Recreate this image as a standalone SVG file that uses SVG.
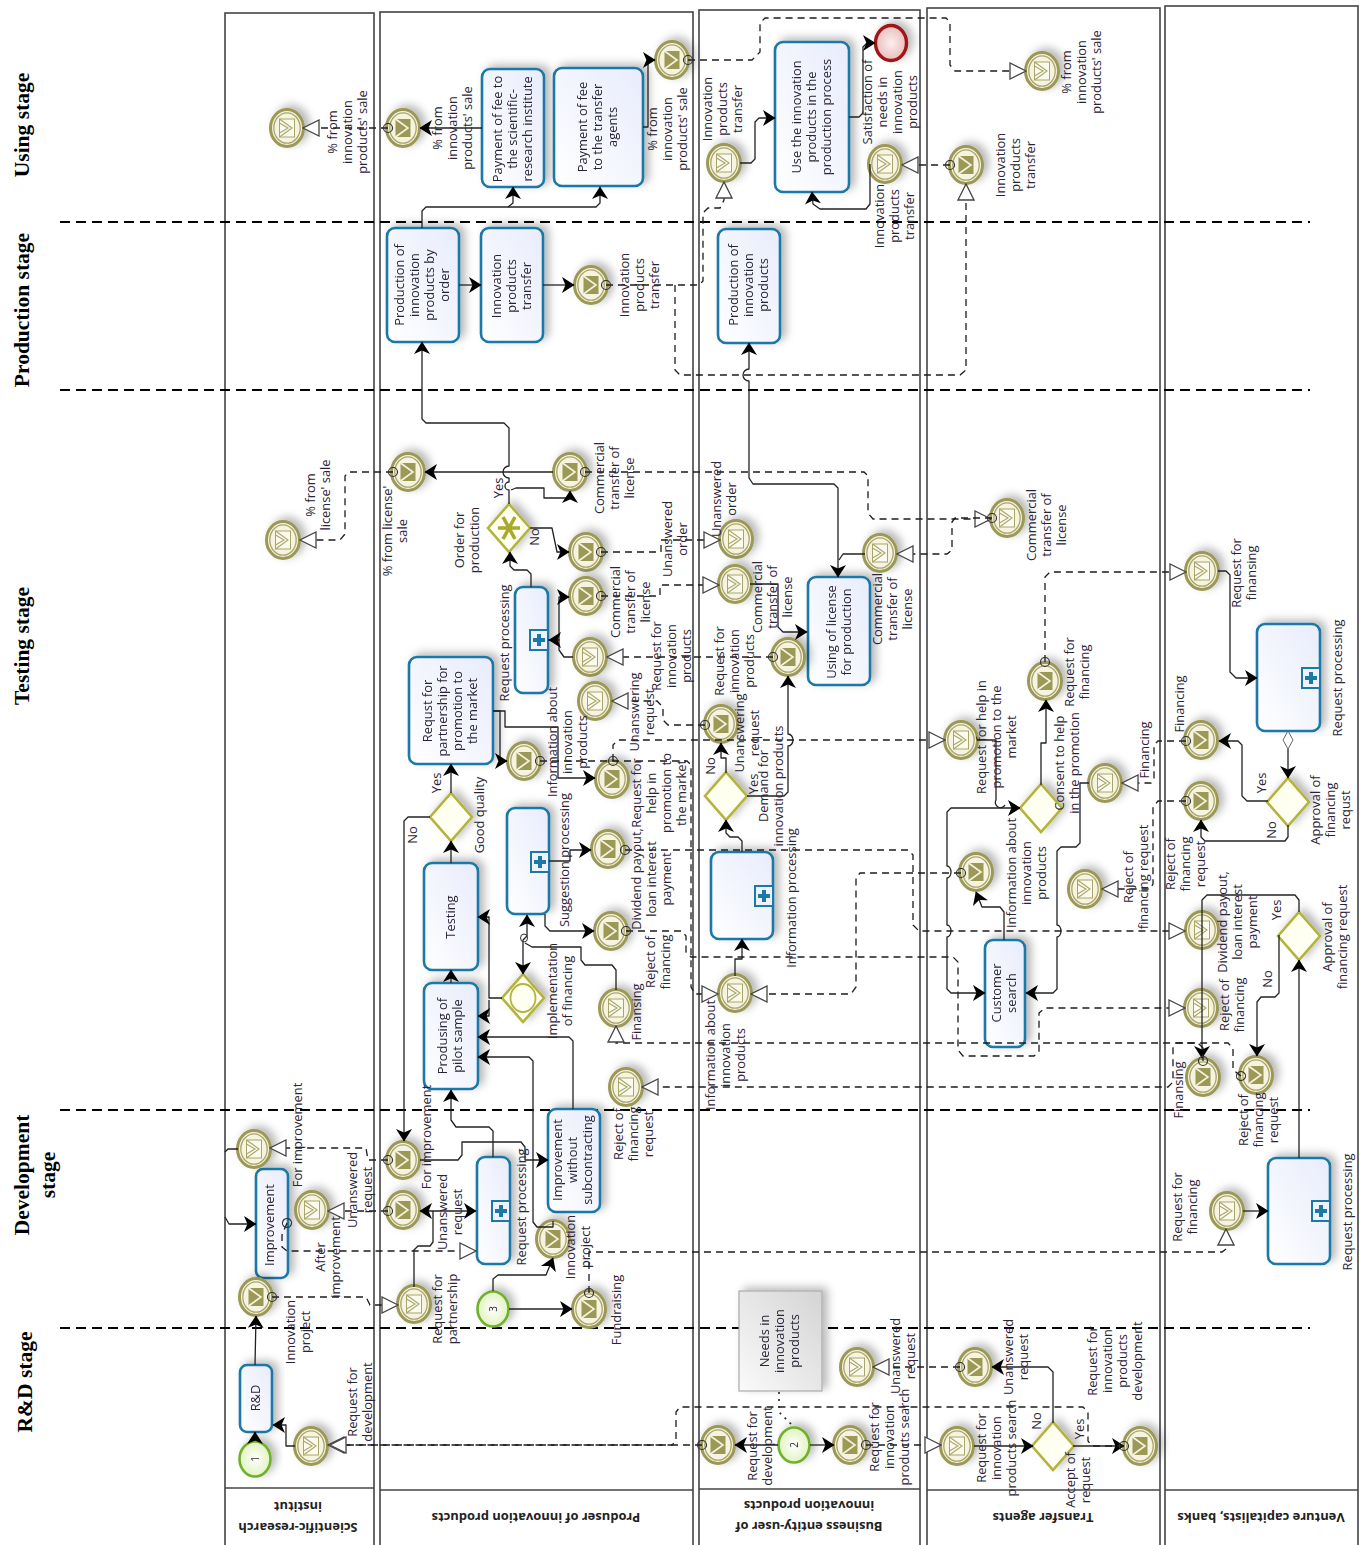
<svg xmlns="http://www.w3.org/2000/svg" xmlns:xlink="http://www.w3.org/1999/xlink" width="1365" height="1545" viewBox="0 0 1365 1545">
<style>
text{font-family:"Open Sans","Noto Sans","Liberation Sans",sans-serif;font-size:12.9px;fill:#2a2438;text-anchor:middle}
.lane{fill:#fff;stroke:#444;stroke-width:1.6}
.hdr{stroke:#444;stroke-width:1.6;fill:none}
.stage{stroke:#000;stroke-width:2;stroke-dasharray:10 6;fill:none}
.st{font-family:"Liberation Serif",serif;font-size:21.5px;font-weight:bold;fill:#000}
.lt{font-size:12.9px;font-weight:700;fill:#222}
.task{fill:url(#tg);stroke:#1d78a6;stroke-width:2.6}
.box{fill:#eef2fd;stroke:#1d78a6;stroke-width:2}
.plus{fill:#1d78a6}
.gw{fill:url(#gg);stroke:#b3b33c;stroke-width:2.6}
.sh{filter:url(#sd)}
.s{fill:none;stroke:#222;stroke-width:1.3;stroke-linejoin:round;marker-end:url(#arr)}
.b{marker-start:url(#arr)}
.n{marker-end:none}
.m{fill:none;stroke:#1c1c1c;stroke-width:1.3;stroke-dasharray:7 5;marker-end:url(#tri)}
.c{marker-start:url(#cir)}
</style>
<defs>
<linearGradient id="tg" x1="0" y1="1" x2="1" y2="0"><stop offset="0" stop-color="#fff"/><stop offset="1" stop-color="#e8ecfc"/></linearGradient>
<linearGradient id="gg" x1="0" y1="0" x2="1" y2="1"><stop offset="0" stop-color="#ffffea"/><stop offset="1" stop-color="#fffff8"/></linearGradient>
<linearGradient id="ag" x1="1" y1="0" x2="0" y2="1"><stop offset="0" stop-color="#d4d4d4"/><stop offset="1" stop-color="#fafafa"/></linearGradient>
<radialGradient id="sg" cx=".5" cy=".5" r=".6"><stop offset="0" stop-color="#fff"/><stop offset="1" stop-color="#dcf0b4"/></radialGradient>
<radialGradient id="eg" cx=".5" cy=".5" r=".6"><stop offset="0" stop-color="#fbeeee"/><stop offset="1" stop-color="#e8b4b4"/></radialGradient>
<filter id="sd" x="-40%" y="-40%" width="180%" height="180%"><feDropShadow dx="5" dy="-3" stdDeviation="4" flood-color="#000" flood-opacity=".28"/></filter>
<marker id="arr" markerUnits="userSpaceOnUse" markerWidth="14" markerHeight="16" viewBox="0 0 11 14" refX="10.5" refY="7" orient="auto-start-reverse"><path d="M11,7 L0,0 L3,7 L0,14 Z" fill="#000"/></marker>
<marker id="tri" markerUnits="userSpaceOnUse" markerWidth="18" markerHeight="18" viewBox="-1 -1 18 18" refX="16" refY="8" orient="auto"><path d="M16,8 L0,0 L0,16 Z" fill="#fff" stroke="#444" stroke-width="1.3"/></marker>
<marker id="cir" markerUnits="userSpaceOnUse" markerWidth="11" markerHeight="11" viewBox="-5.5 -5.5 11 11" refX="0" refY="0" orient="auto"><circle r="4.5" fill="none" stroke="#333" stroke-width="1.2"/></marker>
<g id="evT"><ellipse rx="16.5" ry="18.5" fill="#f6f4e0" stroke="#9c9857" stroke-width="3"/><ellipse rx="13.2" ry="15.2" fill="none" stroke="#a8a56c" stroke-width="1.3"/><rect x="-7.5" y="-9" width="15" height="18" fill="#9c9857"/><path d="M-7.5,-9 L5,0 L-7.5,9" fill="none" stroke="#f6f4e0" stroke-width="1.6"/></g>
<g id="evC"><ellipse rx="16.5" ry="18.5" fill="#f6f4e0" stroke="#9c9857" stroke-width="3"/><ellipse rx="13.2" ry="15.2" fill="none" stroke="#a8a56c" stroke-width="1.3"/><rect x="-7.5" y="-9" width="15" height="18" fill="#fbfaef" stroke="#a9a66a"/><path d="M-7.5,-9 L5,0 L-7.5,9 M-7.5,-5 L1,0 L-7.5,5" fill="none" stroke="#a9a66a" stroke-width="1.1"/></g>
<g id="gwp"><path class="gw" d="M-21,0 L0,-24 L21,0 L0,24 Z"/></g>
<g id="plus"><rect x="0" y="0" width="18" height="20" class="box"/><path class="plus" d="M7,4 h4 v4 h4 v4 h-4 v4 h-4 v-4 h-4 v-4 h4 Z"/></g>
</defs>

<g id="lanes">
<rect class="lane" x="225" y="13" width="149" height="1540"/><path class="hdr" d="M225,1488 H374"/>
<rect class="lane" x="380" y="12" width="313" height="1540"/><path class="hdr" d="M380,1490 H693"/>
<rect class="lane" x="699" y="10" width="221" height="1540"/><path class="hdr" d="M699,1489 H920"/>
<rect class="lane" x="927" y="8" width="233" height="1540"/><path class="hdr" d="M927,1490 H1160"/>
<rect class="lane" x="1165" y="6" width="193" height="1545"/><path class="hdr" d="M1165,1490 H1358"/>
<text class="lt" transform="translate(298,1523) rotate(180)">Scientific-research<tspan x="0" dy="21">institut</tspan></text>
<text class="lt" transform="translate(536,1513) rotate(180)">Produser of innovation products</text>
<text class="lt" transform="translate(809,1522) rotate(180)">Business entity-user of<tspan x="0" dy="21">innovation products</tspan></text>
<text class="lt" transform="translate(1043,1513) rotate(180)">Transfer agents</text>
<text class="lt" transform="translate(1261,1513) rotate(180)">Venture capitalists, banks</text>
</g>
<g id="stages">
<path class="stage" d="M60,222 H1310 M60,390 H1310 M60,1110 H1310 M60,1328 H1310"/>
<text class="st" transform="translate(29,125) rotate(-90)">Using stage</text>
<text class="st" transform="translate(29,310) rotate(-90)">Production stage</text>
<text class="st" transform="translate(29,646) rotate(-90)">Testing stage</text>
<text class="st" transform="translate(29,1175) rotate(-90)">Development<tspan x="0" dy="26">stage</tspan></text>
<text class="st" transform="translate(32,1382) rotate(-90)">R&amp;D stage</text>
</g>

<g id="nodes">
<g id="task-rd" class="sh"><rect class="task" x="240" y="1365" width="32" height="67" rx="7"/><text transform="translate(260,1398) rotate(-90)">R&amp;D</text></g>
<g id="task-improvement" class="sh"><rect class="task" x="256" y="1169" width="32" height="109" rx="7"/><text transform="translate(274,1225) rotate(-90)">Improvement</text></g>
<g id="task-fee-sri" class="sh"><rect class="task" x="482" y="69" width="62" height="118" rx="8"/><text transform="translate(502,129) rotate(-90)">Payment of fee to<tspan x="0" dy="15">the  scientific-</tspan><tspan x="0" dy="15">research institute</tspan></text></g>
<g id="task-fee-agents" class="sh"><rect class="task" x="554" y="68" width="89" height="118" rx="8"/><text transform="translate(587,127) rotate(-90)">Payment of fee<tspan x="0" dy="15">to the transfer</tspan><tspan x="0" dy="15">agents</tspan></text></g>
<g id="task-prod-order" class="sh"><rect class="task" x="387" y="228" width="72" height="114" rx="8"/><text transform="translate(404,285) rotate(-90)">Production of<tspan x="0" dy="15">innovation</tspan><tspan x="0" dy="15">products by</tspan><tspan x="0" dy="15">order</tspan></text></g>
<g id="task-transfer" class="sh"><rect class="task" x="481" y="228" width="62" height="114" rx="8"/><text transform="translate(501,286) rotate(-90)">Innovation<tspan x="0" dy="15">products</tspan><tspan x="0" dy="15">transfer</tspan></text></g>
<g id="sub-request1" class="sh"><rect class="task" x="515" y="587" width="33" height="106" rx="8"/><use href="#plus" x="530" y="630"/></g>
<g id="task-partnership" class="sh"><rect class="task" x="409" y="657" width="84" height="107" rx="8"/><text transform="translate(432,711) rotate(-90)">Requst for<tspan x="0" dy="15">partnership  for</tspan><tspan x="0" dy="15">promotion to</tspan><tspan x="0" dy="15">the market</tspan></text></g>
<g id="sub-suggestion" class="sh"><rect class="task" x="507" y="808" width="42" height="106" rx="8"/><use href="#plus" x="531" y="852"/></g>
<g id="task-testing" class="sh"><rect class="task" x="424" y="863" width="54" height="107" rx="8"/><text transform="translate(455,917) rotate(-90)">Testing</text></g>
<g id="task-pilot" class="sh"><rect class="task" x="424" y="983" width="54" height="106" rx="8"/><text transform="translate(447,1036) rotate(-90)">Produsing of<tspan x="0" dy="15">pilot sample</tspan></text></g>
<g id="task-improve2" class="sh"><rect class="task" x="548" y="1109" width="52" height="103" rx="8"/><text transform="translate(562,1160) rotate(-90)">Improvement<tspan x="0" dy="15">without</tspan><tspan x="0" dy="15">subcontracting</tspan></text></g>
<g id="sub-request2" class="sh"><rect class="task" x="477" y="1157" width="33" height="107" rx="8"/><use href="#plus" x="492" y="1201"/></g>
<g id="task-prod2" class="sh"><rect class="task" x="718" y="229" width="62" height="114" rx="8"/><text transform="translate(738,285) rotate(-90)">Production of<tspan x="0" dy="15">innovation</tspan><tspan x="0" dy="15">products</tspan></text></g>
<g id="task-use" class="sh"><rect class="task" x="775" y="42" width="74" height="150" rx="8"/><text transform="translate(801,117) rotate(-90)">Use the innovation<tspan x="0" dy="15">products in  the</tspan><tspan x="0" dy="15">production process</tspan></text></g>
<g id="task-license" class="sh"><rect class="task" x="808" y="577" width="62" height="108" rx="8"/><text transform="translate(836,632) rotate(-90)">Using of license<tspan x="0" dy="15">for production</tspan></text></g>
<g id="sub-info" class="sh"><rect class="task" x="711" y="852" width="62" height="87" rx="8"/><use href="#plus" x="755" y="886"/></g>
<g id="task-customer" class="sh"><rect class="task" x="985" y="940" width="40" height="107" rx="8"/><text transform="translate(1001,993) rotate(-90)">Customer<tspan x="0" dy="15">search</tspan></text></g>
<g id="sub-v1" class="sh"><rect class="task" x="1257" y="624" width="63" height="107" rx="8"/><use href="#plus" x="1302" y="668"/></g>
<g id="sub-v2" class="sh"><rect class="task" x="1268" y="1158" width="62" height="106" rx="8"/><use href="#plus" x="1312" y="1201"/></g>
<g id="annotation" class="sh"><rect x="739" y="1291" width="83" height="100" fill="url(#ag)" stroke="#aaa" stroke-width="1.2"/><text transform="translate(769,1341) rotate(-90)">Needs in<tspan x="0" dy="15">innovation</tspan><tspan x="0" dy="15">products</tspan></text></g>

<g id="gw-order" class="sh"><use href="#gwp" x="509" y="528"/><g transform="translate(509,528)" stroke="#a9a92a" stroke-width="3.6"><path d="M-11,0 H11 M-6,-11 L6,11 M-6,11 L6,-11"/></g></g>
<g id="gw-quality" class="sh"><use href="#gwp" x="451" y="817"/></g>
<g id="gw-impl" class="sh"><use href="#gwp" x="523" y="998"/><ellipse cx="523" cy="998" rx="12.5" ry="14" fill="none" stroke="#b3b33c" stroke-width="1.8"/></g>
<g id="gw-demand" class="sh"><use href="#gwp" x="726" y="796"/></g>
<g id="gw-consent" class="sh"><use href="#gwp" x="1041" y="808"/></g>
<g id="gw-approval1" class="sh"><use href="#gwp" x="1288" y="802"/></g>
<g id="gw-approval2" class="sh"><use href="#gwp" x="1299" y="936"/></g>
<g id="gw-accept" class="sh"><use href="#gwp" x="1053" y="1446"/></g>

<g id="start-1" class="sh"><ellipse cx="255" cy="1459" rx="15.5" ry="17.5" fill="url(#sg)" stroke="#6fb12b" stroke-width="2.6"/><text style="font-size:10px" transform="translate(259,1459) rotate(-90)">1</text></g>
<g id="start-2" class="sh"><ellipse cx="794" cy="1445" rx="15.5" ry="17.5" fill="url(#sg)" stroke="#6fb12b" stroke-width="2.6"/><text style="font-size:10px" transform="translate(798,1445) rotate(-90)">2</text></g>
<g id="start-3" class="sh"><ellipse cx="493" cy="1309" rx="15.5" ry="17.5" fill="url(#sg)" stroke="#6fb12b" stroke-width="2.6"/><text style="font-size:10px" transform="translate(497,1309) rotate(-90)">3</text></g>
<g id="end" class="sh"><ellipse cx="891" cy="43" rx="15.5" ry="17.5" fill="url(#eg)" stroke="#a01515" stroke-width="3.4"/></g>

<g id="e01" class="sh"><use href="#evC" x="287" y="128"/></g>
<g id="e02" class="sh"><use href="#evT" x="403" y="128"/></g>
<g id="e03" class="sh"><use href="#evT" x="672" y="60"/></g>
<g id="e04" class="sh"><use href="#evT" x="591" y="285"/></g>
<g id="e05" class="sh"><use href="#evC" x="283" y="540"/></g>
<g id="e06" class="sh"><use href="#evT" x="408" y="472"/></g>
<g id="e07" class="sh"><use href="#evT" x="570" y="472"/></g>
<g id="e08" class="sh"><use href="#evT" x="586" y="552"/></g>
<g id="e09" class="sh"><use href="#evT" x="586" y="596"/></g>
<g id="e10" class="sh"><use href="#evC" x="590" y="657"/></g>
<g id="e11" class="sh"><use href="#evC" x="595" y="701"/></g>
<g id="e12" class="sh"><use href="#evT" x="524" y="761"/></g>
<g id="e13" class="sh"><use href="#evT" x="612" y="779"/></g>
<g id="e14" class="sh"><use href="#evT" x="608" y="849"/></g>
<g id="e15" class="sh"><use href="#evT" x="611" y="931"/></g>
<g id="e16" class="sh"><use href="#evC" x="616" y="1008"/></g>
<g id="e17" class="sh"><use href="#evC" x="626" y="1087"/></g>
<g id="e18" class="sh"><use href="#evT" x="403" y="1160"/></g>
<g id="e19" class="sh"><use href="#evC" x="254" y="1149"/></g>
<g id="e20" class="sh"><use href="#evC" x="312" y="1210"/></g>
<g id="e21" class="sh"><use href="#evT" x="403" y="1210"/></g>
<g id="e22" class="sh"><use href="#evT" x="256" y="1297"/></g>
<g id="e23" class="sh"><use href="#evC" x="414" y="1304"/></g>
<g id="e24" class="sh"><use href="#evT" x="553" y="1239"/></g>
<g id="e25" class="sh"><use href="#evT" x="589" y="1309"/></g>
<g id="e26" class="sh"><use href="#evC" x="311" y="1446"/></g>
<g id="e27" class="sh"><use href="#evC" x="724" y="163"/></g>
<g id="e28" class="sh"><use href="#evC" x="885" y="164"/></g>
<g id="e29" class="sh"><use href="#evC" x="736" y="539"/></g>
<g id="e30" class="sh"><use href="#evC" x="735" y="584"/></g>
<g id="e31" class="sh"><use href="#evC" x="880" y="553"/></g>
<g id="e32" class="sh"><use href="#evT" x="788" y="657"/></g>
<g id="e33" class="sh"><use href="#evT" x="721" y="724"/></g>
<g id="e34" class="sh"><use href="#evC" x="735" y="993"/></g>
<g id="e35" class="sh"><use href="#evC" x="857" y="1367"/></g>
<g id="e36" class="sh"><use href="#evT" x="718" y="1445"/></g>
<g id="e37" class="sh"><use href="#evT" x="850" y="1445"/></g>
<g id="e38" class="sh"><use href="#evT" x="966" y="165"/></g>
<g id="e39" class="sh"><use href="#evC" x="1042" y="71"/></g>
<g id="e40" class="sh"><use href="#evC" x="1007" y="518"/></g>
<g id="e41" class="sh"><use href="#evT" x="1045" y="681"/></g>
<g id="e42" class="sh"><use href="#evC" x="961" y="740"/></g>
<g id="e43" class="sh"><use href="#evC" x="1105" y="783"/></g>
<g id="e44" class="sh"><use href="#evT" x="976" y="872"/></g>
<g id="e45" class="sh"><use href="#evC" x="1085" y="889"/></g>
<g id="e46" class="sh"><use href="#evT" x="975" y="1367"/></g>
<g id="e47" class="sh"><use href="#evC" x="957" y="1446"/></g>
<g id="e48" class="sh"><use href="#evT" x="1140" y="1446"/></g>
<g id="e49" class="sh"><use href="#evC" x="1202" y="571"/></g>
<g id="e50" class="sh"><use href="#evT" x="1201" y="740"/></g>
<g id="e51" class="sh"><use href="#evT" x="1201" y="801"/></g>
<g id="e52" class="sh"><use href="#evC" x="1202" y="930"/></g>
<g id="e53" class="sh"><use href="#evC" x="1201" y="1008"/></g>
<g id="e54" class="sh"><use href="#evT" x="1203" y="1077"/></g>
<g id="e55" class="sh"><use href="#evT" x="1256" y="1075"/></g>
<g id="e56" class="sh"><use href="#evC" x="1227" y="1211"/></g>
</g>

<g id="connectors">
<path class="s" d="M255,1441 V1432"/>
<path class="s" d="M255,1365 L256,1316"/>
<path class="s" d="M295,1446 H286 V1425 H273"/>
<path class="s" d="M225,1217 L229,1224 H256"/>
<path class="s n" d="M238,1149 L228,1149 L225,1152"/>
<path class="s" d="M422,228 V211 L426,207 H596 L600,203 V187"/>
<path class="s" d="M508,207 L513,203 V187"/>
<path class="s" d="M482,128 H420"/>
<path class="s" d="M643,127 H648 V60 H655"/>
<path class="s" d="M459,285 H481"/>
<path class="s" d="M543,285 H574"/>
<path class="s" d="M509,504 V490 a4,4 0 0 1 0,-8 V478 a6,6 0 0 1 0,-12 V428 L504,423 H426 L422,419 V342"/>
<path class="s" d="M511,490 L516,488 H544 V498 H570 V491"/>
<path class="s" d="M553,472 H425"/>
<path class="s" d="M530,528 H552 L557,552 H569"/>
<path class="s" d="M531,587 V574 L527,570 H514 L510,566 V552"/>
<path class="s" d="M548,640 H559 V597 H569"/>
<path class="s" d="M573,657 H564 L559,650 V640 H549"/>
<path class="s" d="M493,711 H500 V761 H507"/>
<path class="s" d="M493,711 H505 V727 H558 V778 H595"/>
<path class="s" d="M451,793 V764"/>
<path class="s" d="M451,863 V841"/>
<path class="s" d="M430,817 H408 L404,821 V1141"/>
<path class="s" d="M451,983 V970"/>
<path class="s" d="M549,861 H570 V850 H591"/>
<path class="s" d="M545,914 V926 L550,931 H594"/>
<path class="s" d="M502,998 H489 V917 H478"/>
<path class="s" d="M489,1000 V1016 H478"/>
<path class="s b" d="M523,974 V940 L527,936 V915"/>
<path class="s n" d="M616,990 V970 L612,965 H585 L581,960 V947 H532 L525,943"/>
<ellipse cx="524" cy="938" rx="3.5" ry="4" fill="none" stroke="#333" stroke-width="1"/>
<path class="s" d="M573,1109 V1041 L569,1037 H478"/>
<path class="s" d="M553,1221 V1227 H537 L533,1222 V1061 L529,1057 H478"/>
<path class="s" d="M493,1157 V1131 L489,1127 H456 L451,1120 V1090"/>
<path class="s" d="M420,1160 H458 L462,1155 V1142 H521 L525,1147 V1160 H548"/>
<path class="s b" d="M420,1211 H476"/>
<path class="s n" d="M414,1287 V1250 L418,1246 H430 L433,1242 V1211"/>
<path class="s" d="M493,1291 V1279 L498,1275 H546 L553,1258"/>
<path class="s" d="M509,1309 H572"/>
<path class="s" d="M740,163 H751 L755,159 V122 L759,118 H775"/>
<path class="s" d="M849,117 H859 L863,113 V47 L867,43 H875"/>
<path class="s" d="M870,164 V204 L866,209 H820 L813,204 L812,192"/>
<path class="s b" d="M749,343 V369 a6,6 0 0 0 0,12 V478 L753,484 H834 L838,488 V577"/>
<path class="s n" d="M865,554 H843 L839,560"/>
<path class="s" d="M750,584 H778 V627 L783,632 H807"/>
<path class="s" d="M747,796 H784 L788,792 V746 a5,6 0 0 0 0,-12 V676"/>
<path class="s" d="M726,773 V758 H721 V743"/>
<path class="s" d="M742,852 V841 L738,837 H730 L726,833 V820"/>
<path class="s" d="M735,976 V959 H742 V939"/>
<path class="s" d="M778,1445 H735"/>
<path class="s" d="M810,1445 H834"/>
<path class="s n" d="M977,740 H996 V800 a5,5 0 0 0 9,5"/>
<path class="s b" d="M1020,808 H951 L947,812 V866 a4,6 0 0 1 0,12 V925 a4,6 0 0 1 0,12 V989 L951,993 H985"/>
<path class="s" d="M1041,785 V743 H1046 V700"/>
<path class="s" d="M1089,783 H1080 V843 L1076,847 H1061 L1057,851 V925 a4,6 0 0 1 0,12 V989 L1053,993 H1026"/>
<path class="s" d="M1004,940 V912 L1000,907 H982 L976,892"/>
<path class="s" d="M974,1446 H1033"/>
<path class="s" d="M1053,1423 V1372 L1048,1367 H992"/>
<path class="s" d="M1073,1446 H1124"/>
<path class="s" d="M1218,571 H1226 L1230,575 V672 L1236,678 H1257"/>
<path class="s" d="M1288,749 V778"/>
<path d="M1288,731 L1293,740 L1288,749 L1283,740 Z" fill="#fff" stroke="#666"/>
<path class="s" d="M1268,801 H1247 L1242,796 V745 L1238,741 H1219"/>
<path class="s" d="M1288,825 V837 L1285,841 H1205 L1201,837 V820"/>
<path class="s" d="M1299,912 V900 L1295,895 H1207 L1202,900 V1058"/>
<path class="s" d="M1279,935 V993 L1275,997 H1261 L1257,1002 V1056"/>
<path class="s" d="M1243,1211 H1268"/>
<path class="s" d="M1299,1158 V960"/>

<path class="m c" d="M388,128 H303"/>
<path class="m c" d="M688,60 H752 L760,52 V23 L765,18 H946 L950,22 V65 L955,71 H1026"/>
<path class="m c" d="M606,285 H699 L703,281 V213 L708,208 H720 L724,200 V182"/>
<path class="m" d="M675,285 V370 L680,375 H960 L966,370 V184"/>
<path class="m c" d="M950,165 H902"/>
<path class="m c" d="M393,472 H349 L345,476 V534 L340,540 H300"/>
<path class="m c" d="M585,472 H864 L868,476 V513 L873,519 H991"/>
<path class="m c" d="M601,552 H661 V540 H720"/>
<path class="m c" d="M601,596 H660 V585 H719"/>
<path class="m c" d="M773,657 H607"/>
<path class="m c" d="M705,725 H668 L663,720 V707 L657,701 H612"/>
<path class="m c" d="M613,761 V745 L618,740 H945"/>
<path class="m c" d="M540,761 H687 L691,765 V987 L695,994 H718"/>
<path class="m c" d="M625,850 H908 L913,855 V925 L919,931 H1185"/>
<path class="m c" d="M626,931 H682 L686,936 V952 L691,957 H953 L958,962 V1050 L963,1056 H1034 L1039,1052 V1013 L1045,1008 H1185"/>
<path class="m c" d="M1186,741 H1158 L1154,745 V778 L1151,783 H1122"/>
<path class="m c" d="M1186,801 H1158 L1153,807 V884 L1150,889 H1102"/>
<path class="m c" d="M1203,1061 V1048 L1198,1043 H621 L616,1043 V1026"/>
<path class="m c" d="M1241,1076 L1233,1070 V1048 L1228,1043 H1177 L1173,1047 V1082 L1168,1087 H642"/>
<path class="m c" d="M272,1297 H366 L370,1305 H398"/>
<path class="m c" d="M388,1211 H328"/>
<path class="m c" d="M388,1160 H368 L366,1148 H270"/>
<path class="m c" d="M287,1223 L282,1235 V1247 L287,1251 H476"/>
<path class="m c" d="M589,1293 V1252 H1222 L1226,1249 V1229"/>
<path class="m c" d="M866,1445 H941"/>
<path class="m c" d="M702,1445 H328"/>
<path class="m c" d="M1124,1446 H1092 L1088,1441 V1412 L1083,1407 H680 L676,1412 V1441 L672,1445 H330"/>
<path class="m c" d="M960,1367 H873"/>
<path class="m c" d="M961,873 H860 L856,878 V987 L851,994 H751"/>
<path class="m c" d="M992,518 H955 L952,522 V550 L947,554 H897"/>
<path class="m c" d="M1045,662 V577 L1050,572 H1186"/>
<path d="M779,1392 V1412 L794,1427" fill="none" stroke="#222" stroke-width="1.6" stroke-dasharray="2 5"/>
</g>

<g id="labels">
<text transform="translate(337,132) rotate(-90)">% from<tspan x="0" dy="15">innovation</tspan><tspan x="0" dy="15">products' sale</tspan></text>
<text transform="translate(315,495) rotate(-90)">% from<tspan x="0" dy="15">license' sale</tspan></text>
<text transform="translate(302,1135) rotate(-90)">For improvement</text>
<text transform="translate(357,1190) rotate(-90)">Unanswered<tspan x="0" dy="15">request</tspan></text>
<text transform="translate(325,1257) rotate(-90)">After<tspan x="0" dy="15">improvement</tspan></text>
<text transform="translate(295,1332) rotate(-90)">Innovation<tspan x="0" dy="15">project</tspan></text>
<text transform="translate(357,1402) rotate(-90)">Request for<tspan x="0" dy="15">development</tspan></text>
<text transform="translate(442,128) rotate(-90)">% from<tspan x="0" dy="15">innovation</tspan><tspan x="0" dy="15">products' sale</tspan></text>
<text transform="translate(657,129) rotate(-90)">% from<tspan x="0" dy="15">innovation</tspan><tspan x="0" dy="15">products' sale</tspan></text>
<text transform="translate(629,285) rotate(-90)">Innovation<tspan x="0" dy="15">products</tspan><tspan x="0" dy="15">transfer</tspan></text>
<text transform="translate(604,478) rotate(-90)">Commercial<tspan x="0" dy="15">transfer of</tspan><tspan x="0" dy="15">license</tspan></text>
<text transform="translate(392,531) rotate(-90)">% from license'<tspan x="0" dy="15">sale</tspan></text>
<text transform="translate(464,540) rotate(-90)">Order for<tspan x="0" dy="15">production</tspan></text>
<text transform="translate(503,488) rotate(-90)">Yes</text>
<text transform="translate(539,537) rotate(-90)">No</text>
<text transform="translate(509,643) rotate(-90)">Request processing</text>
<text transform="translate(672,539) rotate(-90)">Unanswered<tspan x="0" dy="15">order</tspan></text>
<text transform="translate(620,602) rotate(-90)">Commercial<tspan x="0" dy="15">transfer of</tspan><tspan x="0" dy="15">license</tspan></text>
<text transform="translate(661,656) rotate(-90)">Request for<tspan x="0" dy="15">innovation</tspan><tspan x="0" dy="15">products</tspan></text>
<text transform="translate(639,712) rotate(-90)">Unanswering<tspan x="0" dy="15">request</tspan></text>
<text transform="translate(557,742) rotate(-90)">Information about<tspan x="0" dy="15">innovation</tspan><tspan x="0" dy="15">products</tspan></text>
<text transform="translate(441,783) rotate(-90)">Yes</text>
<text transform="translate(484,815) rotate(-90)">Good quality</text>
<text transform="translate(417,835) rotate(-90)">No</text>
<text transform="translate(569,860) rotate(-90)">Suggestion processing</text>
<text transform="translate(641,793) rotate(-90)">Request for<tspan x="0" dy="15">help in</tspan><tspan x="0" dy="15">promotion to</tspan><tspan x="0" dy="15">the market</tspan></text>
<text transform="translate(641,879) rotate(-90)">Dividend payout,<tspan x="0" dy="15">loan interest</tspan><tspan x="0" dy="15">payment</tspan></text>
<text transform="translate(655,962) rotate(-90)">Reject of<tspan x="0" dy="15">financing</tspan></text>
<text transform="translate(557,991) rotate(-90)">Implementation<tspan x="0" dy="15">of financing</tspan></text>
<text transform="translate(641,1012) rotate(-90)">Finansing</text>
<text transform="translate(623,1134) rotate(-90)">Reject of<tspan x="0" dy="15">financing</tspan><tspan x="0" dy="15">request</tspan></text>
<text transform="translate(431,1137) rotate(-90)">For improvement</text>
<text transform="translate(447,1212) rotate(-90)">Unanswered<tspan x="0" dy="15">request</tspan></text>
<text transform="translate(526,1207) rotate(-90)">Request processing</text>
<text transform="translate(575,1247) rotate(-90)">Innovation<tspan x="0" dy="15">project</tspan></text>
<text transform="translate(442,1309) rotate(-90)">Request for<tspan x="0" dy="15">partnership</tspan></text>
<text transform="translate(621,1310) rotate(-90)">Fundraising</text>
<text transform="translate(712,109) rotate(-90)">Innovation<tspan x="0" dy="15">products</tspan><tspan x="0" dy="15">transfer</tspan></text>
<text transform="translate(872,102) rotate(-90)">Satisfaction of<tspan x="0" dy="15">needs in</tspan><tspan x="0" dy="15">innovation</tspan><tspan x="0" dy="15">products</tspan></text>
<text transform="translate(884,216) rotate(-90)">Innovation<tspan x="0" dy="15">products</tspan><tspan x="0" dy="15">transfer</tspan></text>
<text transform="translate(721,499) rotate(-90)">Unanswered<tspan x="0" dy="15">order</tspan></text>
<text transform="translate(762,597) rotate(-90)">Commercial<tspan x="0" dy="15">transfer of</tspan><tspan x="0" dy="15">license</tspan></text>
<text transform="translate(882,609) rotate(-90)">Commercial<tspan x="0" dy="15">transfer of</tspan><tspan x="0" dy="15">license</tspan></text>
<text transform="translate(724,661) rotate(-90)">Request for<tspan x="0" dy="15">innovation</tspan><tspan x="0" dy="15">products</tspan></text>
<text transform="translate(744,733) rotate(-90)">Unanswering<tspan x="0" dy="15">request</tspan></text>
<text transform="translate(715,766) rotate(-90)">No</text>
<text transform="translate(758,784) rotate(-90)">Yes</text>
<text transform="translate(768,786) rotate(-90)">Demand for<tspan x="0" dy="15">innovation products</tspan></text>
<text transform="translate(796,898) rotate(-90)">Information processing</text>
<text transform="translate(715,1055) rotate(-90)">Information about<tspan x="0" dy="15">innovation</tspan><tspan x="0" dy="15">products</tspan></text>
<text transform="translate(900,1356) rotate(-90)">Unanswered<tspan x="0" dy="15">request</tspan></text>
<text transform="translate(757,1446) rotate(-90)">Request for<tspan x="0" dy="15">development</tspan></text>
<text transform="translate(879,1437) rotate(-90)">Request for<tspan x="0" dy="15">innovation</tspan><tspan x="0" dy="15">products  search</tspan></text>
<text transform="translate(1005,165) rotate(-90)">Innovation<tspan x="0" dy="15">products</tspan><tspan x="0" dy="15">transfer</tspan></text>
<text transform="translate(1071,72) rotate(-90)">% from<tspan x="0" dy="15">innovation</tspan><tspan x="0" dy="15">products' sale</tspan></text>
<text transform="translate(1036,525) rotate(-90)">Commercial<tspan x="0" dy="15">transfer of</tspan><tspan x="0" dy="15">license</tspan></text>
<text transform="translate(1074,672) rotate(-90)">Request for<tspan x="0" dy="15">financing</tspan></text>
<text transform="translate(986,737) rotate(-90)">Request for help in<tspan x="0" dy="15">promotion to the</tspan><tspan x="0" dy="15">market</tspan></text>
<text transform="translate(1064,763) rotate(-90)">Consent to help<tspan x="0" dy="15">in the promotion</tspan></text>
<text transform="translate(1149,750) rotate(-90)">Financing</text>
<text transform="translate(1016,873) rotate(-90)">Information about<tspan x="0" dy="15">innovation</tspan><tspan x="0" dy="15">products</tspan></text>
<text transform="translate(1133,877) rotate(-90)">Reject of<tspan x="0" dy="15">financing request</tspan></text>
<text transform="translate(1013,1357) rotate(-90)">Unanswered<tspan x="0" dy="15">request</tspan></text>
<text transform="translate(1097,1361) rotate(-90)">Request for<tspan x="0" dy="15">innovation</tspan><tspan x="0" dy="15">products</tspan><tspan x="0" dy="15">development</tspan></text>
<text transform="translate(986,1448) rotate(-90)">Request for<tspan x="0" dy="15">innovation</tspan><tspan x="0" dy="15">products search</tspan></text>
<text transform="translate(1041,1421) rotate(-90)">No</text>
<text transform="translate(1084,1429) rotate(-90)">Yes</text>
<text transform="translate(1075,1480) rotate(-90)">Accept of<tspan x="0" dy="15">request</tspan></text>
<text transform="translate(1241,573) rotate(-90)">Request for<tspan x="0" dy="15">finansing</tspan></text>
<text transform="translate(1342,678) rotate(-90)">Request processing</text>
<text transform="translate(1184,704) rotate(-90)">Financing</text>
<text transform="translate(1266,783) rotate(-90)">Yes</text>
<text transform="translate(1276,830) rotate(-90)">No</text>
<text transform="translate(1320,810) rotate(-90)">Approval of<tspan x="0" dy="15">financing</tspan><tspan x="0" dy="15">requst</tspan></text>
<text transform="translate(1175,864) rotate(-90)">Reject of<tspan x="0" dy="15">financing</tspan><tspan x="0" dy="15">request</tspan></text>
<text transform="translate(1227,922) rotate(-90)">Dividend payout,<tspan x="0" dy="15">loan interest</tspan><tspan x="0" dy="15">payment</tspan></text>
<text transform="translate(1281,910) rotate(-90)">Yes</text>
<text transform="translate(1332,937) rotate(-90)">Approval  of<tspan x="0" dy="15">financing request</tspan></text>
<text transform="translate(1272,979) rotate(-90)">No</text>
<text transform="translate(1229,1005) rotate(-90)">Reject of<tspan x="0" dy="15">financing</tspan></text>
<text transform="translate(1183,1090) rotate(-90)">Finansing</text>
<text transform="translate(1248,1120) rotate(-90)">Reject of<tspan x="0" dy="15">financing</tspan><tspan x="0" dy="15">request</tspan></text>
<text transform="translate(1182,1207) rotate(-90)">Request for<tspan x="0" dy="15">financing</tspan></text>
<text transform="translate(1352,1212) rotate(-90)">Request processing</text>
</g>
</svg>
